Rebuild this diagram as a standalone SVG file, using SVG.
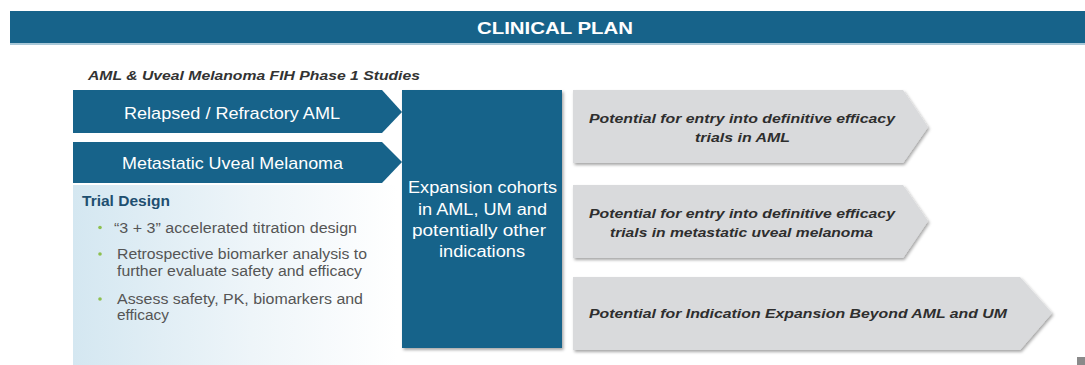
<svg xmlns="http://www.w3.org/2000/svg" width="1085" height="365" viewBox="0 0 1085 365">
<defs>
<style>
.t{font-family:"Liberation Sans",Arial,sans-serif}
.wh{fill:#ffffff}
.blue{fill:#17638a}
.gray{fill:#d9dadc}
.gt{fill:#2e2e2e;font-weight:bold;font-style:italic;font-size:13.5px}
.bt{fill:#555555;font-size:14px}
.ct{fill:#ffffff;font-size:16px}
.dot{fill:#8dc04f}
</style>
<linearGradient id="pg" x1="0" y1="0" x2="1" y2="0">
<stop offset="0" stop-color="#d4e7f1"/>
<stop offset="0.55" stop-color="#eef5f9"/>
<stop offset="1" stop-color="#ffffff"/>
</linearGradient>
<filter id="sh" x="-5%" y="-5%" width="112%" height="115%">
<feDropShadow dx="1.5" dy="2" stdDeviation="1.5" flood-color="#000" flood-opacity="0.35"/>
</filter>
</defs>
<rect width="1085" height="365" fill="#ffffff"/>
<g id="header">
<rect x="10" y="11" width="1075" height="32" class="blue"/>
<rect x="10" y="43" width="1075" height="2" fill="#a9c8d8"/>
<text x="555" y="34" text-anchor="middle" class="t wh" font-size="17" font-weight="bold" textLength="156" lengthAdjust="spacingAndGlyphs">CLINICAL PLAN</text>
</g>
<g id="subtitle">
<text x="88" y="80" class="t" font-size="12.5" font-weight="bold" font-style="italic" fill="#333" textLength="332" lengthAdjust="spacingAndGlyphs">AML &amp; Uveal Melanoma FIH Phase 1 Studies</text>
</g>
<g id="trial-design">
<rect x="73" y="185" width="325" height="180" fill="url(#pg)"/>
<text x="82" y="205.5" class="t" font-size="14.5" font-weight="bold" fill="#1e4f70" textLength="88" lengthAdjust="spacingAndGlyphs">Trial Design</text>
<circle cx="100" cy="227.5" r="1.8" class="dot"/>
<text x="114" y="232.5" class="t bt" textLength="243" lengthAdjust="spacingAndGlyphs">“3 + 3” accelerated titration design</text>
<circle cx="100" cy="254" r="1.8" class="dot"/>
<text x="117" y="258.5" class="t bt" textLength="250" lengthAdjust="spacingAndGlyphs">Retrospective biomarker analysis to</text>
<text x="117" y="275.5" class="t bt" textLength="245" lengthAdjust="spacingAndGlyphs">further evaluate safety and efficacy</text>
<circle cx="100" cy="299" r="1.8" class="dot"/>
<text x="117" y="303.5" class="t bt" textLength="246" lengthAdjust="spacingAndGlyphs">Assess safety, PK, biomarkers and</text>
<text x="117" y="320" class="t bt" textLength="52" lengthAdjust="spacingAndGlyphs">efficacy</text>
</g>
<g id="aml-arrow">
<polygon points="73,90 382,90 402,112 382,133 73,133" class="blue"/>
<text x="232" y="119" text-anchor="middle" class="t wh" font-size="17" textLength="216" lengthAdjust="spacingAndGlyphs">Relapsed / Refractory AML</text>
</g>
<g id="um-arrow">
<polygon points="73,142 382,142 402,162 382,183 73,183" class="blue"/>
<text x="232.5" y="169" text-anchor="middle" class="t wh" font-size="17" textLength="221" lengthAdjust="spacingAndGlyphs">Metastatic Uveal Melanoma</text>
</g>
<g id="expansion">
<rect x="402" y="90" width="160" height="258" class="blue" filter="url(#sh)"/>
<text x="482.5" y="193" text-anchor="middle" class="t ct" textLength="149" lengthAdjust="spacingAndGlyphs">Expansion cohorts</text>
<text x="482.5" y="214.5" text-anchor="middle" class="t ct" textLength="129" lengthAdjust="spacingAndGlyphs">in AML, UM and</text>
<text x="479" y="235.5" text-anchor="middle" class="t ct" textLength="134" lengthAdjust="spacingAndGlyphs">potentially other</text>
<text x="482" y="256.5" text-anchor="middle" class="t ct" textLength="86" lengthAdjust="spacingAndGlyphs">indications</text>
</g>
<g id="aml-trials">
<polygon points="573,90 903,90 928,127 903,163 573,163" class="gray" filter="url(#sh)"/>
<text x="742" y="122.5" text-anchor="middle" class="t gt" textLength="306" lengthAdjust="spacingAndGlyphs">Potential for entry into definitive efficacy</text>
<text x="742.5" y="141.5" text-anchor="middle" class="t gt" textLength="95" lengthAdjust="spacingAndGlyphs">trials in AML</text>
</g>
<g id="um-trials">
<polygon points="573,185 903,185 928,221 903,258 573,258" class="gray" filter="url(#sh)"/>
<text x="742" y="218" text-anchor="middle" class="t gt" textLength="306" lengthAdjust="spacingAndGlyphs">Potential for entry into definitive efficacy</text>
<text x="741.5" y="236.5" text-anchor="middle" class="t gt" textLength="263" lengthAdjust="spacingAndGlyphs">trials in metastatic uveal melanoma</text>
</g>
<g id="indication-expansion">
<polygon points="573,277 1020,277 1052,313 1020,350 573,350" class="gray" filter="url(#sh)"/>
<text x="798" y="318" text-anchor="middle" class="t gt" textLength="418" lengthAdjust="spacingAndGlyphs">Potential for Indication Expansion Beyond AML and UM</text>
</g>
<g id="connectors"></g>
<rect x="1077" y="357" width="8" height="8" fill="#8a8a8a"/>
</svg>
